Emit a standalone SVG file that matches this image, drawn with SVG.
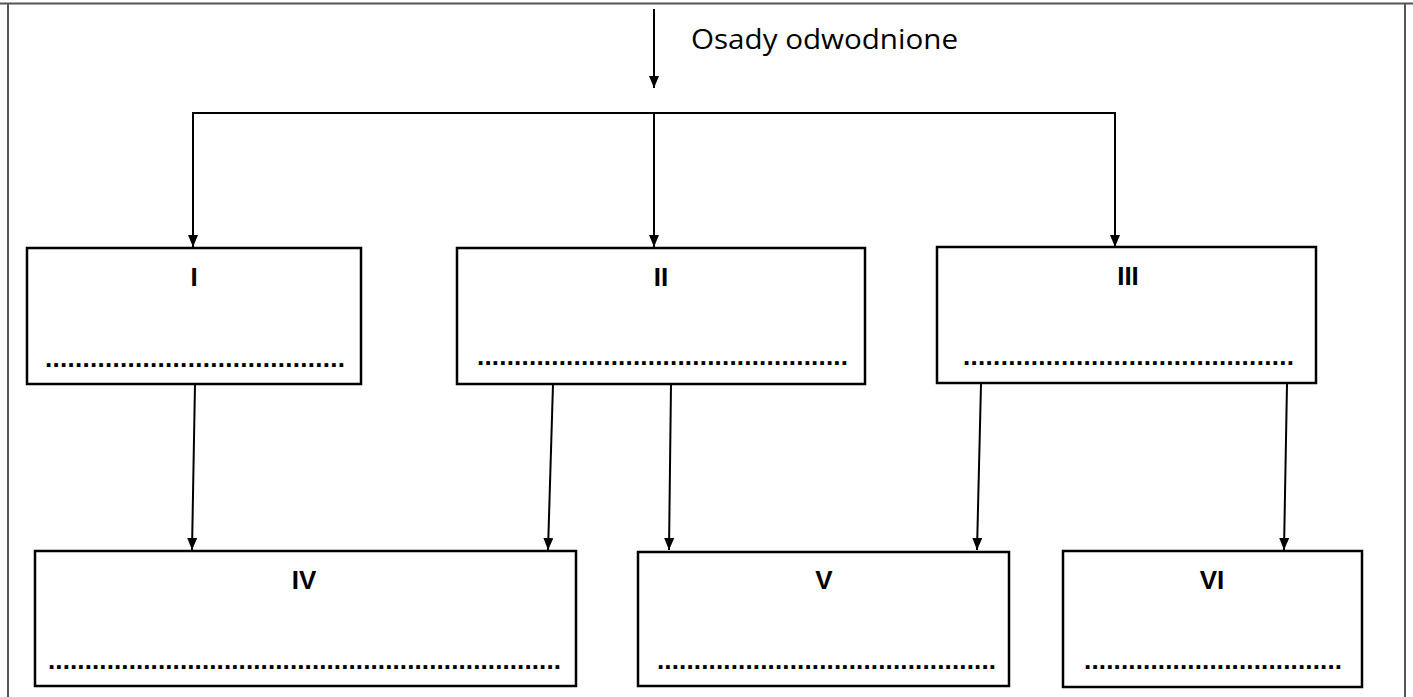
<svg xmlns="http://www.w3.org/2000/svg" width="1413" height="697" viewBox="0 0 1413 697">
<style>
.box{fill:#fff;stroke:#000;stroke-width:2.5}
.con{fill:none;stroke:#000;stroke-width:2}
.frame{fill:none;stroke:#555;stroke-width:2}
.lbl{font-family:"Liberation Sans",Arial,sans-serif;font-weight:bold;font-size:26px;text-anchor:middle;fill:#000}
.dots{font-family:"Liberation Sans",Arial,sans-serif;font-weight:bold;font-size:26px;fill:#000}
.title{font-family:"Open Sans","Liberation Sans",sans-serif;font-size:28px;fill:#000}
</style>
<defs>
<marker id="ah" viewBox="0 0 12 10" refX="12" refY="5" markerWidth="12" markerHeight="10" markerUnits="userSpaceOnUse" orient="auto">
<path d="M0,0 L12,5 L0,10 Z" fill="#000"/>
</marker>
</defs>
<rect width="1413" height="697" fill="#fff"/>
<g id="frame">
<line class="frame" x1="0" y1="3.5" x2="1413" y2="3.5"/>
<line class="frame" x1="8" y1="3" x2="8" y2="697"/>
<line class="frame" x1="1405" y1="3" x2="1405" y2="697"/>
</g>
<text class="title" x="691" y="49" textLength="267" lengthAdjust="spacingAndGlyphs">Osady odwodnione</text>
<g id="connectors">
<line class="con" x1="654" y1="9" x2="654" y2="88" marker-end="url(#ah)"/>
<polyline class="con" points="193,247 193,113 1115,113 1115,247" marker-end="url(#ah)"/>
<line class="con" x1="193" y1="113" x2="193" y2="247" marker-end="url(#ah)"/>
<line class="con" x1="654" y1="113" x2="654" y2="247" marker-end="url(#ah)"/>
<line class="con" x1="195" y1="384" x2="192" y2="550" marker-end="url(#ah)"/>
<line class="con" x1="553" y1="384" x2="548" y2="550" marker-end="url(#ah)"/>
<line class="con" x1="671" y1="384" x2="669" y2="550" marker-end="url(#ah)"/>
<line class="con" x1="981" y1="384" x2="977" y2="550" marker-end="url(#ah)"/>
<line class="con" x1="1287" y1="384" x2="1284" y2="550" marker-end="url(#ah)"/>
</g>
<g id="node-I">
<rect class="box" x="27" y="248" width="334" height="136"/>
<text class="lbl" x="194" y="286">I</text>
<text class="dots" x="45" y="367" textLength="300" lengthAdjust="spacing">........................................</text>
</g>
<g id="node-II">
<rect class="box" x="457" y="248" width="408" height="136"/>
<text class="lbl" x="661" y="286">II</text>
<text class="dots" x="477" y="365" textLength="371" lengthAdjust="spacing">..................................................</text>
</g>
<g id="node-III">
<rect class="box" x="937" y="247" width="379" height="136"/>
<text class="lbl" x="1128" y="285">III</text>
<text class="dots" x="963" y="365" textLength="331" lengthAdjust="spacing">............................................</text>
</g>
<g id="node-IV">
<rect class="box" x="35" y="551" width="541" height="135"/>
<text class="lbl" x="304" y="589">IV</text>
<text class="dots" x="48" y="669" textLength="513" lengthAdjust="spacing">......................................................................</text>
</g>
<g id="node-V">
<rect class="box" x="638" y="552" width="371" height="134"/>
<text class="lbl" x="824" y="589">V</text>
<text class="dots" x="657" y="669" textLength="339" lengthAdjust="spacing">..............................................</text>
</g>
<g id="node-VI">
<rect class="box" x="1063" y="551" width="299" height="136"/>
<text class="lbl" x="1212" y="589">VI</text>
<text class="dots" x="1084" y="669" textLength="258" lengthAdjust="spacing">...................................</text>
</g>
</svg>
